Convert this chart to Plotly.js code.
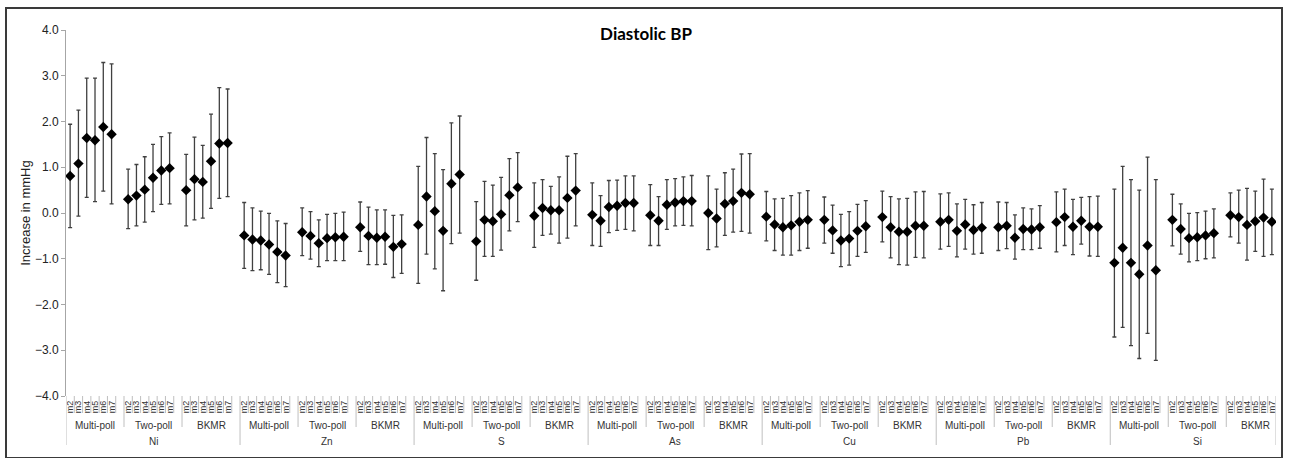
<!DOCTYPE html>
<html><head><meta charset="utf-8">
<script src="https://cdn.plot.ly/plotly-3.0.1.min.js"></script>
<style>html,body{margin:0;padding:0;background:#fff}#chart{width:1292px;height:458px}</style>
</head><body><div id="chart"></div><script>
const elements = ['Ni', 'Zn', 'S', 'As', 'Cu', 'Pb', 'Si'];
const methods = ['Multi-poll', 'Two-poll', 'BKMR'];
const models = ['m2', 'm3', 'm4', 'm5', 'm6', 'm7'];

// Each array: Multi-poll m2..m7, Two-poll m2..m7, BKMR m2..m7
const est_Ni = [0.81, 1.08, 1.64, 1.59, 1.88, 1.72,  0.30, 0.38, 0.51, 0.77, 0.93, 0.98,  0.50, 0.74, 0.68, 1.13, 1.52, 1.53];
const lo_Ni  = [-0.32, -0.07, 0.34, 0.25, 0.48, 0.20,  -0.34, -0.28, -0.20, 0.03, 0.19, 0.20,  -0.28, -0.15, -0.11, 0.10, 0.32, 0.36];
const hi_Ni  = [1.94, 2.25, 2.95, 2.95, 3.29, 3.26,  0.96, 1.06, 1.23, 1.50, 1.67, 1.75,  1.28, 1.66, 1.48, 2.16, 2.74, 2.71];

const est_Zn = [-0.49, -0.58, -0.60, -0.69, -0.85, -0.93,  -0.42, -0.50, -0.66, -0.55, -0.53, -0.52,  -0.31, -0.50, -0.54, -0.52, -0.74, -0.68];
const lo_Zn  = [-1.21, -1.26, -1.24, -1.34, -1.52, -1.61,  -0.93, -1.01, -1.17, -1.04, -1.04, -1.04,  -0.84, -1.13, -1.13, -1.12, -1.41, -1.32];
const hi_Zn  = [0.23, 0.11, 0.04, -0.01, -0.17, -0.23,  0.11, 0.03, -0.15, -0.03, -0.01, 0.02,  0.24, 0.13, 0.07, 0.07, -0.05, -0.04];

const est_S = [-0.26, 0.36, 0.04, -0.39, 0.64, 0.84,  -0.62, -0.15, -0.18, -0.03, 0.39, 0.56,  -0.06, 0.11, 0.06, 0.06, 0.33, 0.49];
const lo_S  = [-1.54, -0.90, -1.22, -1.70, -0.67, -0.44,  -1.47, -0.95, -0.95, -0.81, -0.39, -0.19,  -0.75, -0.49, -0.46, -0.66, -0.55, -0.28];
const hi_S  = [1.02, 1.65, 1.30, 0.95, 1.97, 2.12,  0.25, 0.69, 0.61, 0.78, 1.19, 1.32,  0.66, 0.73, 0.58, 0.79, 1.24, 1.30];

const est_As = [-0.04, -0.17, 0.13, 0.16, 0.22, 0.22,  -0.05, -0.17, 0.18, 0.23, 0.26, 0.26,  0.00, -0.12, 0.20, 0.26, 0.44, 0.41];
const lo_As  = [-0.71, -0.73, -0.43, -0.38, -0.36, -0.39,  -0.71, -0.71, -0.36, -0.28, -0.27, -0.28,  -0.80, -0.74, -0.49, -0.42, -0.40, -0.44];
const hi_As  = [0.66, 0.38, 0.71, 0.72, 0.81, 0.81,  0.62, 0.36, 0.73, 0.75, 0.79, 0.82,  0.81, 0.52, 0.88, 0.96, 1.29, 1.30];

const est_Cu = [-0.08, -0.25, -0.31, -0.27, -0.19, -0.15,  -0.15, -0.38, -0.60, -0.56, -0.39, -0.29,  -0.09, -0.31, -0.41, -0.41, -0.28, -0.28];
const lo_Cu  = [-0.61, -0.82, -0.92, -0.92, -0.82, -0.77,  -0.66, -0.88, -1.17, -1.14, -0.95, -0.86,  -0.63, -0.98, -1.13, -1.14, -0.97, -0.98];
const hi_Cu  = [0.47, 0.31, 0.32, 0.38, 0.44, 0.49,  0.35, 0.17, -0.03, 0.03, 0.19, 0.27,  0.48, 0.36, 0.31, 0.32, 0.46, 0.47];

const est_Pb = [-0.19, -0.15, -0.39, -0.25, -0.37, -0.32,  -0.31, -0.28, -0.54, -0.35, -0.36, -0.31,  -0.20, -0.09, -0.30, -0.17, -0.30, -0.30];
const lo_Pb  = [-0.79, -0.73, -0.96, -0.79, -0.90, -0.88,  -0.82, -0.78, -1.01, -0.80, -0.80, -0.77,  -0.85, -0.71, -0.91, -0.68, -0.94, -0.95];
const hi_Pb  = [0.42, 0.44, 0.20, 0.30, 0.18, 0.23,  0.24, 0.23, -0.04, 0.11, 0.09, 0.16,  0.46, 0.52, 0.30, 0.34, 0.36, 0.37];

const est_Si = [-1.09, -0.76, -1.09, -1.34, -0.71, -1.25,  -0.15, -0.35, -0.55, -0.53, -0.49, -0.44,  -0.05, -0.09, -0.26, -0.18, -0.10, -0.19];
const lo_Si  = [-2.71, -2.50, -2.90, -3.18, -2.63, -3.22,  -0.72, -0.90, -1.07, -1.04, -1.00, -0.98,  -0.52, -0.66, -1.03, -0.84, -0.95, -0.91];
const hi_Si  = [0.52, 1.02, 0.73, 0.50, 1.22, 0.73,  0.41, 0.20, -0.01, 0.01, 0.04, 0.09,  0.44, 0.50, 0.54, 0.48, 0.74, 0.52];

const yTicks = [-4, -3, -2, -1, 0, 1, 2, 3, 4];

const estAll = [est_Ni, est_Zn, est_S, est_As, est_Cu, est_Pb, est_Si];
const loAll = [lo_Ni, lo_Zn, lo_S, lo_As, lo_Cu, lo_Pb, lo_Si];
const hiAll = [hi_Ni, hi_Zn, hi_S, hi_As, hi_Cu, hi_Pb, hi_Si];

const SLOTS_PER_GROUP = models.length + 1; // one blank slot after each method group
const GROUPS_PER_EL = methods.length;
const nGroups = elements.length * GROUPS_PER_EL;
const nSlots = nGroups * SLOTS_PER_GROUP - 1; // no trailing blank

const xs = [], ys = [], ePlus = [], eMinus = [], tickVals = [], tickText = [];
elements.forEach((el, e) => {
  methods.forEach((mt, m) => {
    models.forEach((md, k) => {
      const i = m * models.length + k;
      const slot = (e * GROUPS_PER_EL + m) * SLOTS_PER_GROUP + k;
      const v = estAll[e][i];
      xs.push(slot); ys.push(v);
      ePlus.push(+(hiAll[e][i] - v).toFixed(3));
      eMinus.push(+(v - loAll[e][i]).toFixed(3));
      tickVals.push(slot); tickText.push(md);
    });
  });
});

const FONT = 'Liberation Sans, Arial, sans-serif';
const sepColor = '#BFBFBF';
const PLOT_H = 366;
const px2paperY = p => -p / PLOT_H; // pixels below the plot bottom
const shapes = [];
for (let b = 0; b <= nSlots; b++) {
  let depth;
  if (b % (SLOTS_PER_GROUP * GROUPS_PER_EL) === 0 || b === nSlots) depth = 49;
  else if (b % SLOTS_PER_GROUP === 0) depth = 31;
  else depth = 17;
  shapes.push({type: 'line', xref: 'x', yref: 'paper', x0: b - 0.5, x1: b - 0.5,
    y0: 0, y1: px2paperY(depth), line: {color: sepColor, width: 1}});
}
// outer chart border
shapes.push({type: 'rect', xref: 'paper', yref: 'paper',
  x0: -60 / 1210, x1: 1216 / 1210, y0: px2paperY(62), y1: (396 - 8) / PLOT_H,
  line: {color: '#3a3a3a', width: 2}});

const annotations = [];
elements.forEach((el, e) => {
  methods.forEach((mt, m) => {
    const g = e * GROUPS_PER_EL + m;
    annotations.push({xref: 'x', yref: 'paper', x: g * SLOTS_PER_GROUP + 3, y: px2paperY(29),
      text: mt, showarrow: false, yanchor: 'middle', xanchor: 'center',
      font: {family: FONT, size: 10, color: '#333'}});
  });
  annotations.push({xref: 'x', yref: 'paper', x: e * 21 + 10, y: px2paperY(45),
    text: el, showarrow: false, yanchor: 'middle', xanchor: 'center',
    font: {family: FONT, size: 10, color: '#333'}});
});

const boundaryVals = [];
for (let b = 0; b <= nSlots; b++) boundaryVals.push(b - 0.5);

const trace = {
  type: 'scatter', mode: 'markers', x: xs, y: ys,
  marker: {symbol: 'diamond', size: 8, color: '#000'},
  error_y: {type: 'data', symmetric: false, array: ePlus, arrayminus: eMinus,
    color: '#404040', thickness: 1.3, width: 2},
  showlegend: false, hoverinfo: 'x+y'
};

const layout = {
  width: 1292, height: 458,
  margin: {l: 66, r: 16, t: 30, b: 62, pad: 0},
  paper_bgcolor: '#fff', plot_bgcolor: '#fff',
  title: {text: '<b>Diastolic BP</b>', x: 0.5, xanchor: 'center', y: 1 - 34 / 458, yanchor: 'middle',
    yref: 'container', font: {family: 'Lato, Carlito, Calibri, sans-serif', size: 17, color: '#000'}},
  xaxis: {range: [-0.5, nSlots - 0.5], showgrid: false, zeroline: false, showline: false,
    tickmode: 'array', tickvals: tickVals, ticktext: tickText, tickangle: -90, ticks: '',
    tickfont: {family: FONT, size: 9, color: '#333'},
    ticklabelstandoff: 2, fixedrange: true},
  xaxis2: {overlaying: 'x', anchor: 'free', position: 0.5, range: [-0.5, nSlots - 0.5],
    showgrid: false, zeroline: false, showline: true, linecolor: '#A6A6A6', linewidth: 1.5,
    tickmode: 'array', tickvals: boundaryVals, ticks: 'inside', ticklen: 3, tickcolor: '#A6A6A6',
    showticklabels: false, side: 'bottom'},
  yaxis: {range: [-4, 4], tickmode: 'array', tickvals: yTicks, tickformat: '.1f',
    showgrid: false, zeroline: false, showline: true, linecolor: '#A6A6A6', linewidth: 1,
    ticks: 'outside', ticklen: 4, tickcolor: '#A6A6A6',
    tickfont: {family: FONT, size: 12, color: '#222'},
    title: {text: 'Increase in mmHg', standoff: 1,
      font: {family: FONT, size: 13, color: '#222'}}},
  shapes: shapes,
  annotations: annotations
};

Plotly.newPlot('chart', [trace], layout, {displayModeBar: false, staticPlot: true});
</script></body></html>
